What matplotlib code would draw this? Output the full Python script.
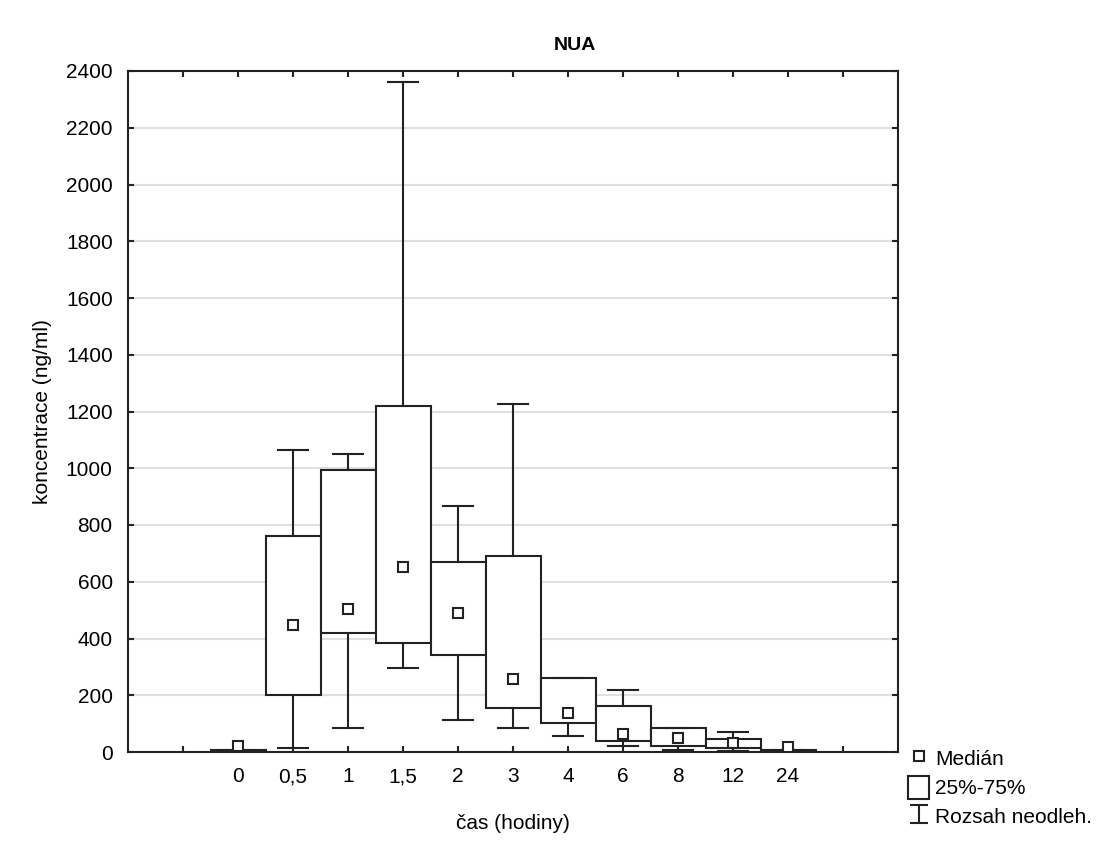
import matplotlib.pyplot as plt
from matplotlib.lines import Line2D
from matplotlib.patches import Rectangle
from matplotlib.path import Path

plt.rcParams['font.family'] = ['Liberation Sans', 'DejaVu Sans']

# data (ng/ml)
casy = ['0', '0,5', '1', '1,5', '2', '3', '4', '6', '8', '12', '24']
median = [20, 448, 505, 653, 491, 257, 139, 62, 50, 33, 19]
q1 = [0, 200, 418, 383, 342, 156, 101, 39, 21, 13, 1]
q3 = [8, 762, 994, 1220, 671, 692, 260, 162, 86, 45, 8]
minimum = [0, 15, 86, 297, 113, 86, 57, 22, 8, 5, 0]
maximum = [8, 1064, 1050, 2361, 867, 1226, 260, 218, 86, 72, 8]

barva = '#222222'

fig = plt.figure(figsize=(11.12, 8.41), dpi=100)
ax = fig.add_axes([128 / 1112, 1 - 752 / 841, 770 / 1112, 681 / 841])

stats = []
for i in range(len(casy)):
    stats.append({'med': median[i], 'q1': q1[i], 'q3': q3[i],
                  'whislo': minimum[i], 'whishi': maximum[i],
                  'mean': median[i], 'fliers': [], 'label': casy[i]})

ax.bxp(stats, positions=range(len(casy)), widths=1.0, capwidths=0.53,
       patch_artist=True, showmeans=True, showfliers=False,
       boxprops=dict(facecolor='white', edgecolor=barva, linewidth=1.5),
       whiskerprops=dict(color=barva, linewidth=1.5),
       capprops=dict(color=barva, linewidth=1.5),
       medianprops=dict(linewidth=0),
       meanprops=dict(marker='s', markersize=7, markerfacecolor='white',
                      markeredgecolor=barva, markeredgewidth=1.5),
       zorder=3)

ax.set_xlim(-2, 12)
ax.set_ylim(0, 2400)
ax.set_yticks(range(0, 2401, 200))
ax.set_xticks(range(-1, 12))
ax.set_xticklabels([''] + casy + [''])
ax.yaxis.grid(True, color='#e0e0e0', linewidth=1.5, zorder=0)
ax.set_axisbelow(True)
ax.tick_params(direction='in', length=4, width=1.5, color=barva,
               top=True, right=True, labelsize=15, pad=11)
for s in ax.spines.values():
    s.set_linewidth(1.5)
    s.set_color(barva)

ax.set_xlabel('čas (hodiny)', fontsize=15, labelpad=20)
ax.set_ylabel('koncentrace (ng/ml)', fontsize=15, labelpad=10)
fig.text(575 / 1112, 1 - 45 / 841, 'NUA', fontsize=14, fontweight='bold',
         ha='center', va='center')

# legenda
ibeam = Path([(-1, 1), (1, 1), (0, 1), (0, -1), (-1, -1), (1, -1)],
             [Path.MOVETO, Path.LINETO, Path.MOVETO, Path.LINETO,
              Path.MOVETO, Path.LINETO])
handles = [
    Line2D([], [], linestyle='none', marker='s', markersize=7,
           markerfacecolor='white', markeredgecolor=barva, markeredgewidth=1.5),
    Rectangle((0, 0), 1, 1, facecolor='white', edgecolor=barva, linewidth=1.5),
    Line2D([], [], linestyle='none', marker=ibeam, markersize=13,
           markerfacecolor='none', markeredgecolor=barva, markeredgewidth=1.5),
]
fig.legend(handles, ['Medián', '25%-75%', 'Rozsah neodleh.'],
           loc='lower left', bbox_to_anchor=(900 / 1112, 5 / 841),
           frameon=False, fontsize=15, handlelength=1.0, handleheight=1.3,
           handletextpad=0.3, labelspacing=0.3, borderaxespad=0)

plt.savefig('out.png', dpi=100)
